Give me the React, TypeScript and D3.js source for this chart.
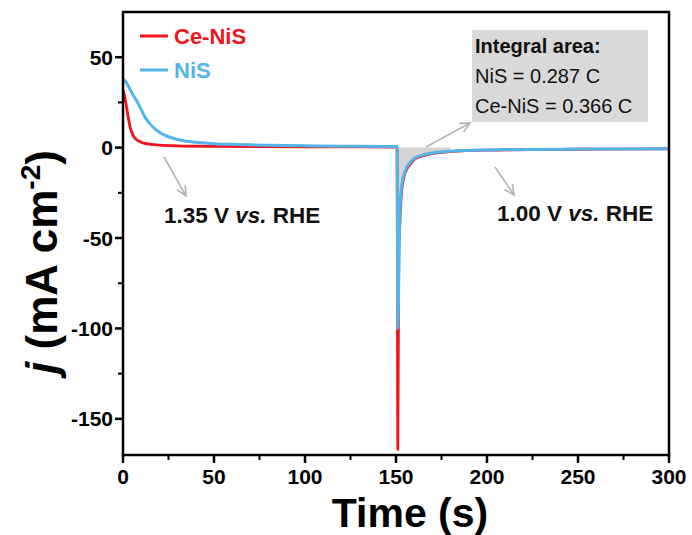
import React from "react";
import * as d3 from "d3";

const ceNisT = [0, 1, 2, 3, 4, 5, 6, 8, 10, 12, 15, 20, 30, 50, 80, 120, 150, 150.6, 151, 151.5, 152, 153, 155, 158, 160, 165, 170, 180, 200, 250, 300];
const ceNisJ = [32, 28, 22, 16, 11, 8, 6, 4, 3, 2.3, 1.8, 1.4, 1.0, 0.7, 0.5, 0.4, 0.3, 0.3, -167, -60, -45, -25, -14, -9, -6.5, -4.5, -3.3, -2.2, -1.4, -0.9, -0.7];

const nisT = [0, 1, 3, 5, 8, 10, 12, 15, 18, 20, 25, 30, 35, 40, 50, 60, 80, 100, 120, 150, 150.6, 151, 152, 153, 155, 158, 160, 165, 170, 180, 200, 250, 300];
const nisJ = [38, 37, 34, 30, 25, 21, 17, 13, 10, 8.5, 6, 4.5, 3.5, 3, 2.2, 1.8, 1.3, 1.0, 0.8, 0.6, 0.6, -100, -40, -22, -13, -8, -6, -4, -3, -2, -1.3, -0.8, -0.6];

const xTicks = [0, 50, 100, 150, 200, 250, 300];
const xMinor = [25, 75, 125, 175, 225, 275];
const yTicks = [-150, -100, -50, 0, 50];
const yMinor = [-125, -75, -25, 25];

const seriesNames = ["Ce-NiS", "NiS"];
const boxLines = ["Integral area:", "NiS = 0.287 C", "Ce-NiS = 0.366 C"];
const labelLeft = ["1.35 V ", "vs.", " RHE"];
const labelRight = ["1.00 V ", "vs.", " RHE"];

const RED = "#f0141c";
const BLUE = "#52b5ea";
const GREY = "#b4b4b4";
const FONT = "'Liberation Sans', Arial, sans-serif";

export default function App() {
  const W = 692, H = 535;
  const x = d3.scaleLinear().domain([0, 300]).range([123, 669]);
  const y = d3.scaleLinear().domain([-170, 75]).range([455, 12]);

  const red = ceNisT.map((t, i) => [t, ceNisJ[i]] as [number, number]);
  const blue = nisT.map((t, i) => [t, nisJ[i]] as [number, number]);

  const line = d3.line<[number, number]>().x(d => x(d[0])).y(d => y(d[1])).curve(d3.curveMonotoneX);
  const fillData = red.filter(d => d[0] >= 150.6 && d[0] <= 180);
  const area = d3.area<[number, number]>().x(d => x(d[0])).y0(y(0)).y1(d => y(d[1])).curve(d3.curveMonotoneX);

  const [x0, x1] = x.range();
  const [yb, yt] = y.range();

  const arrow = (ax: number, ay: number, bx: number, by: number, key: string) => {
    const ang = Math.atan2(by - ay, bx - ax);
    const L = 11, a = 0.45;
    const p1 = [bx - L * Math.cos(ang - a), by - L * Math.sin(ang - a)];
    const p2 = [bx - L * Math.cos(ang + a), by - L * Math.sin(ang + a)];
    return (
      <g key={key} stroke={GREY} strokeWidth={1.6} fill="none">
        <line x1={ax} y1={ay} x2={bx} y2={by} />
        <polyline points={`${p1[0]},${p1[1]} ${bx},${by} ${p2[0]},${p2[1]}`} />
      </g>
    );
  };

  return (
    <svg width={W} height={H} style={{ position: "absolute", left: 0, top: 0, background: "#fff" }} fontFamily={FONT}>
      <rect x={0} y={0} width={W} height={H} fill="#fff" />
      {/* integral area fill */}
      <path d={area(fillData) || ""} fill="#d4d4d4" />
      {/* gray box */}
      <rect x={472} y={30} width={176} height={92} fill="#d9d9d9" />
      <text x={475} y={53} fontSize={20} fontWeight="bold" fill="#111">{boxLines[0]}</text>
      <text x={475} y={83} fontSize={20} fill="#111">{boxLines[1]}</text>
      <text x={475} y={113} fontSize={20} fill="#111">{boxLines[2]}</text>

      {/* arrows */}
      {arrow(164, 157, 186, 196, "a1")}
      {arrow(426, 147, 470, 123, "a2")}
      {arrow(495, 167, 514, 195, "a3")}

      {/* data lines */}
      <path d={line(red) || ""} fill="none" stroke={RED} strokeWidth={2.8} strokeLinejoin="round" />
      <path d={line(blue) || ""} fill="none" stroke={BLUE} strokeWidth={3} strokeLinejoin="round" />

      {/* frame */}
      <rect x={x0} y={yt} width={x1 - x0} height={yb - yt} fill="none" stroke="#000" strokeWidth={2.5} />
      {xTicks.map(t => (
        <g key={"xt" + t}>
          <line x1={x(t)} x2={x(t)} y1={yb} y2={yb + 8} stroke="#000" strokeWidth={2.5} />
          <text x={x(t)} y={yb + 29} textAnchor="middle" fontSize={21} fontWeight="bold">{t}</text>
        </g>
      ))}
      {xMinor.map(t => (
        <line key={"xm" + t} x1={x(t)} x2={x(t)} y1={yb} y2={yb + 5} stroke="#000" strokeWidth={2} />
      ))}
      {yTicks.map(t => (
        <g key={"yt" + t}>
          <line x1={x0} x2={x0 - 8} y1={y(t)} y2={y(t)} stroke="#000" strokeWidth={2.5} />
          <text x={x0 - 10} y={y(t)} dy="0.36em" textAnchor="end" fontSize={21} fontWeight="bold">{t}</text>
        </g>
      ))}
      {yMinor.map(t => (
        <line key={"ym" + t} x1={x0} x2={x0 - 5} y1={y(t)} y2={y(t)} stroke="#000" strokeWidth={2} />
      ))}

      {/* axis titles */}
      <text x={410} y={527} textAnchor="middle" fontSize={41} fontWeight="bold">Time (s)</text>
      <text transform={`translate(57, 262) rotate(-90)`} textAnchor="middle" fontSize={44} fontWeight="bold">
        <tspan fontStyle="italic">j</tspan>
        <tspan> (mA cm</tspan>
        <tspan fontSize={28} dy={-17}>-2</tspan>
        <tspan dy={17}>)</tspan>
      </text>

      {/* legend */}
      <line x1={140} x2={168} y1={36} y2={36} stroke={RED} strokeWidth={3} />
      <text x={174} y={44} fontSize={22} fontWeight="bold" fill={RED}>{seriesNames[0]}</text>
      <line x1={140} x2={168} y1={70} y2={70} stroke={BLUE} strokeWidth={3} />
      <text x={174} y={78} fontSize={22} fontWeight="bold" fill={BLUE}>{seriesNames[1]}</text>

      {/* annotations */}
      <text x={164} y={223} fontSize={22.5} fontWeight="bold" fill="#111">
        <tspan>{labelLeft[0]}</tspan><tspan fontStyle="italic">{labelLeft[1]}</tspan><tspan>{labelLeft[2]}</tspan>
      </text>
      <text x={497} y={221} fontSize={22.5} fontWeight="bold" fill="#111">
        <tspan>{labelRight[0]}</tspan><tspan fontStyle="italic">{labelRight[1]}</tspan><tspan>{labelRight[2]}</tspan>
      </text>
    </svg>
  );
}
